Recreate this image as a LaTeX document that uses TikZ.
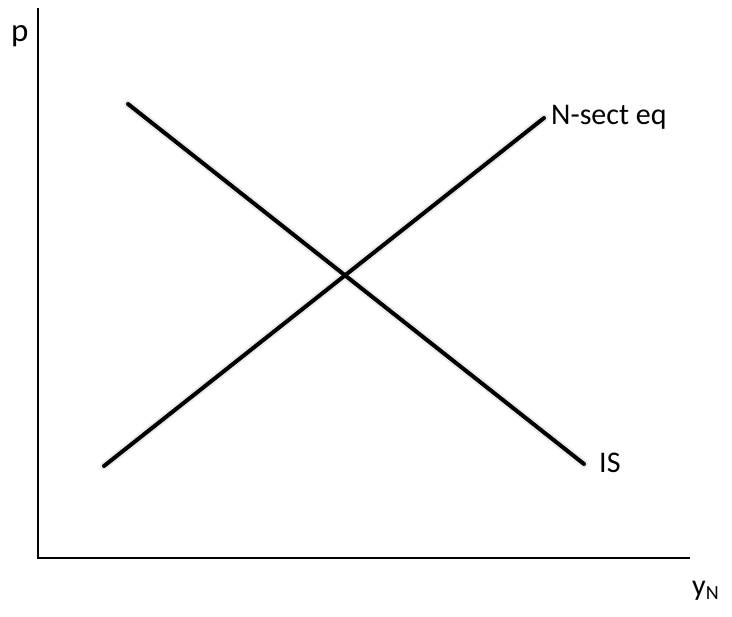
\documentclass[tikz,border=0pt]{standalone}
\usepackage{fontspec}
\setmainfont{Carlito}
\usetikzlibrary{positioning}

\begin{document}
\begin{tikzpicture}[x=1pt, y=-1pt,
    every node/.style={inner sep=0pt},
    lbl/.style={font=\fontsize{30}{34}\selectfont},
    biglbl/.style={font=\fontsize{33}{38}\selectfont},
    axis/.style={line width=2.8pt},
    schedule/.style={line width=4pt, line cap=round},
    blurshade/.style={line width=8pt, line cap=round, black!8, shift={(2pt,-3pt)}}]
  \useasboundingbox (0,0) rectangle (732,617);
  \coordinate (o)    at (38,558);
  \coordinate (ptop) at (38,8);
  \coordinate (yend) at (690,558);
  \coordinate (isA)  at (128,104);
  \coordinate (isB)  at (584,464);
  \coordinate (nsA)  at (104,466);
  \coordinate (nsB)  at (544,118);

  \draw[axis] (ptop) -- (o) -- (yend);

  \draw[blurshade] (isA) -- (isB);
  \draw[blurshade] (nsA) -- (nsB);
  \draw[schedule] (isA) -- (isB);
  \draw[schedule] (nsA) -- (nsB);

  \node[biglbl, anchor=base west] (lp)  at (11,42)   {p};
  \node[lbl, anchor=base west] (lns) at (551,125) {N-sect eq};
  \node[lbl, anchor=base west] (lis) at (599,473) {IS};
  \node[lbl, anchor=base west] (lyn) at (692,596)
    {y\raisebox{-4pt}{\fontsize{20}{22}\selectfont N}};
\end{tikzpicture}
\end{document}
